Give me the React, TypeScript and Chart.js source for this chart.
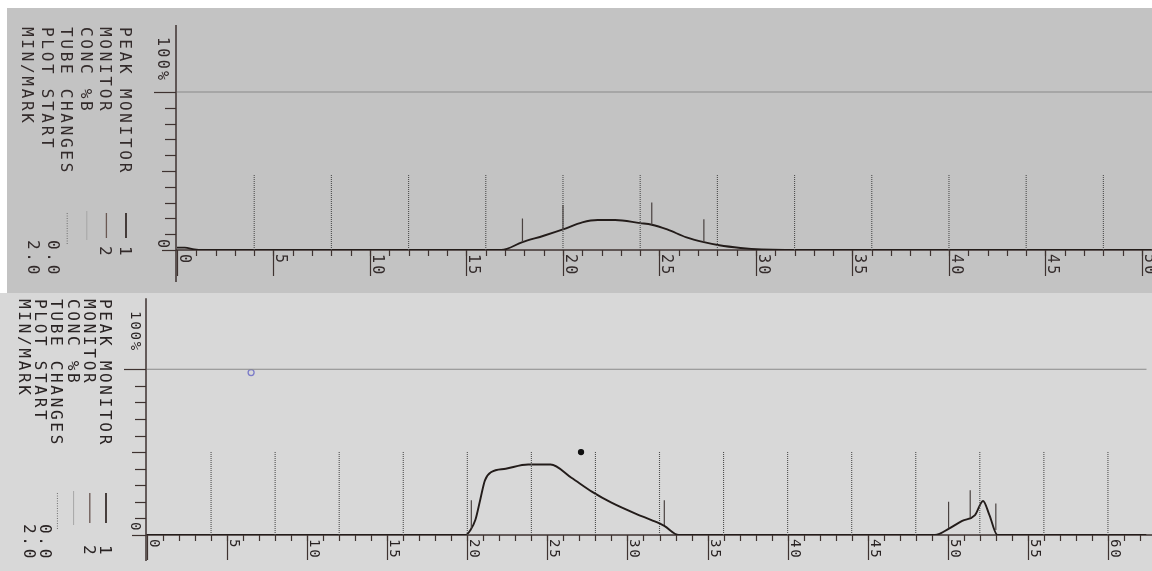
import React, { useEffect, useRef } from "react";
import { Chart, registerables } from "chart.js";

Chart.register(...registerables);

// ---------------- upper strip (run 1) ----------------
const topCurveX = [0, 0.4, 0.9, 1.3, 16.8, 17.9, 19.0, 20.0, 21.0, 21.8, 22.7, 24.0, 24.6, 25.4, 26.4, 27.3, 28.1, 29.2, 30.3, 31.5, 50.5];
const topCurveY = [1.5, 1.5, 0.4, 0, 0, 5, 9, 13, 17.5, 19, 19, 17, 16, 13, 8, 5, 3, 1.3, 0.3, 0, 0];
const topMarkX = [17.9, 20.0, 24.6, 27.3];
const topMarkLow = [5, 13, 16, 5];
const topMarkHigh = [20, 28.5, 30, 19.5];
const topTubeX = [4, 8, 12, 16, 20, 24, 28, 32, 36, 40, 44, 48];
const topTubeHeight = 48;
const topXTicks = [0, 5, 10, 15, 20, 25, 30, 35, 40, 45, 50];
const topXLabels = ["0", "5", "10", "15", "20", "25", "30", "35", "40", "45", "50"];

// ---------------- lower strip (run 2) ----------------
const bottomCurveX = [0, 19.9, 20.2, 20.5, 20.8, 21.1, 21.5, 22.4, 23.8, 25.2, 26.5, 27.8, 29.0, 30.6, 31.5, 32.3, 33.2, 49.2, 50.1, 50.9, 51.7, 52.2, 52.6, 53.1, 62.4];
const bottomCurveY = [0, 0, 3, 9, 21, 33, 38, 40, 42.5, 42.5, 34.5, 26, 19.5, 12.5, 9, 5.5, 0, 0, 4, 8.5, 12, 20.5, 12, 0, 0];
const bottomMarkX = [20.25, 32.3, 50.05, 51.4, 53.0];
const bottomMarkLow = [4, 6, 4, 10.5, 3];
const bottomMarkHigh = [21, 21, 20, 27, 19];
const bottomTubeX = [4, 8, 12, 16, 20, 24, 28, 32, 36, 40, 44, 48, 52, 56, 60];
const bottomTubeHeight = 50;
const bottomXTicks = [0, 5, 10, 15, 20, 25, 30, 35, 40, 45, 50, 55, 60];
const bottomXLabels = ["0", "5", "10", "15", "20", "25", "30", "35", "40", "45", "50", "55", "60"];
const bottomInkDotX = [27.1];
const bottomInkDotY = [50];
const bottomPenCircleX = [6.5];
const bottomPenCircleY = [98];

// ---------------- shared ----------------
const yTicks = [0, 10, 20, 30, 40, 50, 60, 70, 80, 90, 100];
const fullScaleY = 100;
const legendLines = ["PEAK MONITOR", "MONITOR", "CONC %B", "TUBE CHANGES", "PLOT START", "MIN/MARK"];
const legendValues = ["1", "2", "", "", "0.0", "2.0"];
const yTopLabel = "100%";
const yZeroLabel = "0";

type PanelCfg = {
  width: number;
  height: number;
  pageTop: number;
  padding: { left: number; right: number; top: number; bottom: number };
  xMax: number;
  yMax: number;
  bg: string;
  bgX: number;
  bgY: number;
  curveX: number[];
  curveY: number[];
  markX: number[];
  markLow: number[];
  markHigh: number[];
  tubeX: number[];
  tubeH: number;
  xTicks: number[];
  xLabels: string[];
  dots?: { x: number[]; y: number[]; color: string; fill: boolean; r: number }[];
  legendLeft: number[];
  legendY: number;
  sampleY0: number;
  sampleY1: number;
  valueY: number;
  valueY2: number;
  valueShift: number;
  labelFont: number;
  labelSpacing: number;
  yLabelX: number;
  yTopLabelY: number;
  yZeroLabelY: number;
  axisBelow: number;
  majorLen: number;
  textColor: string;
};

function drawRot(ctx: CanvasRenderingContext2D, text: string, x: number, y: number) {
  ctx.save();
  ctx.translate(x, y);
  ctx.rotate(Math.PI / 2);
  ctx.textAlign = "left";
  ctx.textBaseline = "alphabetic";
  ctx.fillText(text, 0, 0);
  ctx.restore();
}

function seg(ctx: CanvasRenderingContext2D, x1: number, y1: number, x2: number, y2: number) {
  ctx.beginPath();
  ctx.moveTo(x1, y1);
  ctx.lineTo(x2, y2);
  ctx.stroke();
}

function makeDecor(cfg: PanelCfg) {
  return {
    id: "stripDecor",
    beforeDraw(chart: any) {
      const ctx: CanvasRenderingContext2D = chart.ctx;
      ctx.save();
      ctx.fillStyle = "#ffffff";
      ctx.fillRect(0, 0, chart.width, chart.height);
      ctx.fillStyle = cfg.bg;
      ctx.fillRect(cfg.bgX, cfg.bgY, chart.width - cfg.bgX, chart.height - cfg.bgY);
      ctx.restore();
    },
    beforeDatasetsDraw(chart: any) {
      const ctx: CanvasRenderingContext2D = chart.ctx;
      const xs = chart.scales.x;
      const ys = chart.scales.y;
      const x0 = xs.getPixelForValue(0);
      const y0 = ys.getPixelForValue(0);
      const yTop = ys.getPixelForValue(ys.max);
      ctx.save();
      ctx.strokeStyle = "#3e3230";
      ctx.lineWidth = 1.5;
      // vertical axis
      seg(ctx, x0 - 1, yTop, x0 - 1, y0 + cfg.axisBelow);
      // baseline
      seg(ctx, x0 - 1, y0, chart.width, y0);
      // y ticks
      ctx.lineWidth = 1.2;
      for (const v of yTicks) {
        const py = Math.round(ys.getPixelForValue(v)) + 0.5;
        const len = v === 100 ? 22 : v === 0 ? 14 : v === 50 ? 14 : 11;
        seg(ctx, x0 - 1 - len, py, x0 - 1, py);
      }
      // x minor ticks
      for (let v = 1; v <= Math.floor(xs.max); v++) {
        const px = Math.round(xs.getPixelForValue(v)) + 0.5;
        seg(ctx, px, y0, px, y0 + 6);
      }
      // x major ticks and labels
      ctx.fillStyle = cfg.textColor;
      ctx.font = cfg.labelFont + "px 'DejaVu Sans Mono', monospace";
      (ctx as any).letterSpacing = cfg.labelSpacing + "px";
      cfg.xTicks.forEach((v, i) => {
        const px = Math.round(xs.getPixelForValue(v)) + 0.5;
        seg(ctx, px, y0, px, y0 + cfg.majorLen);
        drawRot(ctx, cfg.xLabels[i], px + 2, y0 + 4);
      });
      // y labels
      drawRot(ctx, yTopLabel, cfg.yLabelX, cfg.yTopLabelY);
      drawRot(ctx, yZeroLabel, cfg.yLabelX, cfg.yZeroLabelY);
      // legend block
      ctx.font = "16px 'DejaVu Sans Mono', monospace";
      (ctx as any).letterSpacing = "2.7px";
      legendLines.forEach((t, i) => {
        drawRot(ctx, t, cfg.legendLeft[i], cfg.legendY);
      });
      // legend samples
      const cx = (i: number) => cfg.legendLeft[i] + 6;
      ctx.setLineDash([]);
      ctx.strokeStyle = "#2e2422";
      ctx.lineWidth = 1.7;
      seg(ctx, cx(0), cfg.sampleY0, cx(0), cfg.sampleY1);
      ctx.strokeStyle = "#6a5853";
      ctx.lineWidth = 1.3;
      seg(ctx, cx(1), cfg.sampleY0, cx(1), cfg.sampleY1);
      ctx.strokeStyle = "#a6a6a6";
      ctx.lineWidth = 1;
      seg(ctx, cx(2), cfg.sampleY0 - 2, cx(2), cfg.sampleY1 + 2);
      ctx.strokeStyle = "#6e6e6e";
      ctx.setLineDash([1, 1.5]);
      seg(ctx, cx(3), cfg.sampleY0, cx(3), cfg.sampleY1 + 6);
      ctx.setLineDash([]);
      legendValues.forEach((t, i) => {
        if (!t) return;
        if (i < 2) drawRot(ctx, t, cfg.legendLeft[i], cfg.valueY);
        else drawRot(ctx, t, cfg.legendLeft[i] + cfg.valueShift, cfg.valueY2);
      });
      ctx.restore();
    },
  };
}

function pts(xs: number[], ys: number[]) {
  return xs.map((v, i) => ({ x: v, y: ys[i] }));
}
function segs(xs: number[], lows: number[], highs: number[]) {
  const out: any[] = [];
  xs.forEach((v, i) => {
    out.push({ x: v, y: lows[i] }, { x: v, y: highs[i] }, { x: v, y: null });
  });
  return out;
}

function buildConfig(cfg: PanelCfg): any {
  const datasets: any[] = [
    {
      label: "CONC %B 100%",
      data: [
        { x: 0, y: fullScaleY },
        { x: cfg.xMax, y: fullScaleY },
      ],
      borderColor: "#8a8a8a",
      borderWidth: 1.1,
      pointRadius: 0,
      showLine: true,
    },
    {
      label: "TUBE CHANGES",
      data: segs(cfg.tubeX, cfg.tubeX.map(() => 0), cfg.tubeX.map(() => cfg.tubeH)),
      borderColor: "#4e4e4e",
      borderWidth: 1.1,
      borderDash: [1, 1],
      pointRadius: 0,
      showLine: true,
      spanGaps: false,
    },
    {
      label: "MIN/MARK",
      data: segs(cfg.markX, cfg.markLow, cfg.markHigh),
      borderColor: "#4a4240",
      borderWidth: 1.2,
      pointRadius: 0,
      showLine: true,
      spanGaps: false,
    },
    {
      label: "PEAK MONITOR",
      data: pts(cfg.curveX, cfg.curveY),
      borderColor: "#231c1a",
      borderWidth: 1.9,
      pointRadius: 0,
      showLine: true,
      cubicInterpolationMode: "monotone",
    },
  ];
  (cfg.dots || []).forEach((d) => {
    datasets.push({
      label: "mark",
      data: pts(d.x, d.y),
      showLine: false,
      pointRadius: d.r,
      pointBackgroundColor: d.fill ? d.color : "rgba(0,0,0,0)",
      pointBorderColor: d.color,
      pointBorderWidth: 1.3,
    });
  });
  return {
    type: "scatter",
    data: { datasets },
    options: {
      animation: false,
      responsive: false,
      events: [],
      layout: { padding: cfg.padding },
      scales: {
        x: { type: "linear", min: 0, max: cfg.xMax, display: false },
        y: { type: "linear", min: 0, max: cfg.yMax, display: false },
      },
      plugins: { legend: { display: false }, tooltip: { enabled: false } },
    },
    plugins: [makeDecor(cfg)],
  };
}

const topCfg: PanelCfg = {
  width: 1152,
  height: 293,
  pageTop: 0,
  padding: { left: 177, right: 0, top: 25, bottom: 43 },
  xMax: 50.52,
  yMax: 142.4,
  bg: "#c3c3c3",
  bgX: 7,
  bgY: 8,
  curveX: topCurveX,
  curveY: topCurveY,
  markX: topMarkX,
  markLow: topMarkLow,
  markHigh: topMarkHigh,
  tubeX: topTubeX,
  tubeH: topTubeHeight,
  xTicks: topXTicks,
  xLabels: topXLabels,
  legendLeft: [120, 100.4, 80.8, 61.2, 41.6, 22],
  legendY: 27,
  sampleY0: 213,
  sampleY1: 238,
  valueY: 246,
  valueY2: 240,
  valueShift: 6,
  labelFont: 15,
  labelSpacing: 2.3,
  yLabelX: 158,
  yTopLabelY: 37,
  yZeroLabelY: 239,
  axisBelow: 32,
  majorLen: 26,
  textColor: "#332b2b",
};

const bottomCfg: PanelCfg = {
  width: 1152,
  height: 278,
  pageTop: 293,
  padding: { left: 147, right: 0, top: 5, bottom: 36 },
  xMax: 62.42,
  yMax: 142.8,
  bg: "#d8d8d8",
  bgX: 0,
  bgY: 0,
  curveX: bottomCurveX,
  curveY: bottomCurveY,
  markX: bottomMarkX,
  markLow: bottomMarkLow,
  markHigh: bottomMarkHigh,
  tubeX: bottomTubeX,
  tubeH: bottomTubeHeight,
  xTicks: bottomXTicks,
  xLabels: bottomXLabels,
  dots: [
    { x: bottomInkDotX, y: bottomInkDotY, color: "#111111", fill: true, r: 2.5 },
    { x: bottomPenCircleX, y: bottomPenCircleY, color: "#7c7cc8", fill: false, r: 3 },
  ],
  legendLeft: [100, 83.8, 67.6, 51.4, 35.2, 19],
  legendY: 6,
  sampleY0: 200,
  sampleY1: 230,
  valueY: 252,
  valueY2: 231,
  valueShift: 5,
  labelFont: 14,
  labelSpacing: 1.8,
  yLabelX: 131,
  yTopLabelY: 18,
  yZeroLabelY: 229,
  axisBelow: 26,
  majorLen: 25,
  textColor: "#2a2424",
};

function Strip({ cfg }: { cfg: PanelCfg }) {
  const ref = useRef<HTMLCanvasElement | null>(null);
  useEffect(() => {
    if (!ref.current) return;
    const chart = new Chart(ref.current, buildConfig(cfg));
    return () => chart.destroy();
  }, [cfg]);
  return (
    <canvas
      ref={ref}
      width={cfg.width}
      height={cfg.height}
      style={{ position: "absolute", left: 0, top: cfg.pageTop, width: cfg.width, height: cfg.height, display: "block" }}
    />
  );
}

export default function App() {
  useEffect(() => {
    document.body.style.margin = "0";
    document.body.style.overflow = "hidden";
  }, []);
  return (
    <div style={{ position: "relative", width: 1152, height: 571, background: "#ffffff", overflow: "hidden" }}>
      <Strip cfg={topCfg} />
      <Strip cfg={bottomCfg} />
    </div>
  );
}
